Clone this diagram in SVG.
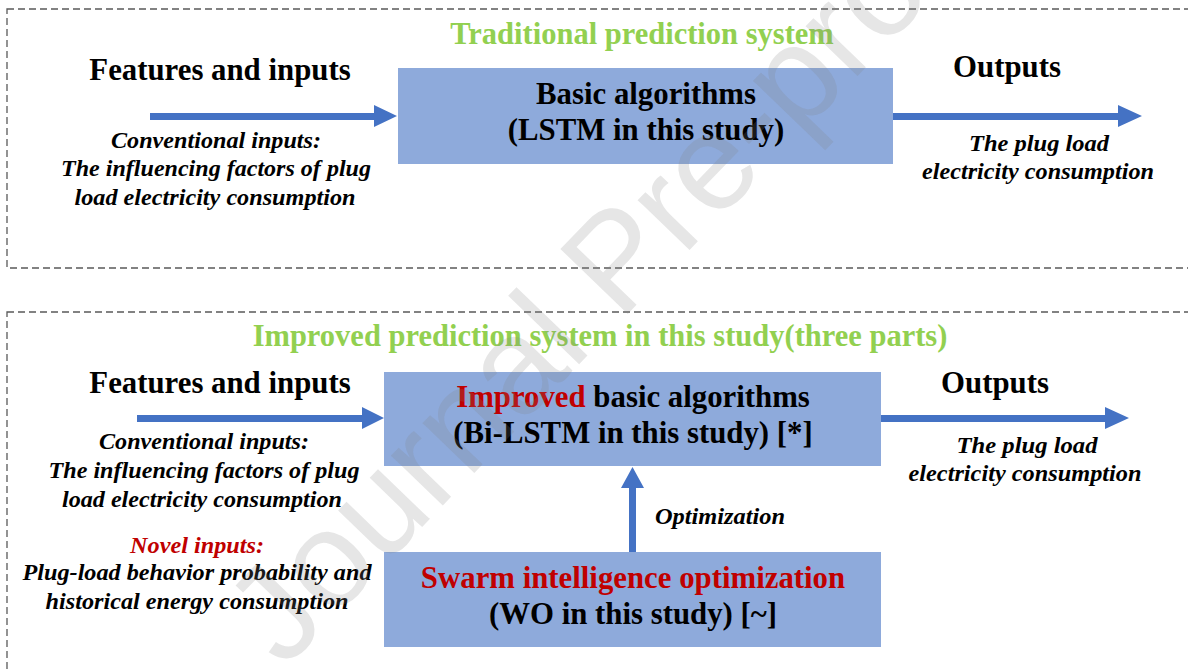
<svg xmlns="http://www.w3.org/2000/svg" width="1188" height="669" viewBox="0 0 1188 669">
<style>
.frame{fill:none;stroke:#595959;stroke-width:1.3;stroke-dasharray:7 4}
.box{fill:#8EAADB}
.arrow{fill:#4472C4}
.title{font-family:"Liberation Serif",serif;font-weight:bold;font-size:30.5px;fill:#92D050}
.head{font-family:"Liberation Serif",serif;font-weight:bold;font-size:30.8px;fill:#000}
.it{font-family:"Liberation Serif",serif;font-weight:bold;font-style:italic;font-size:24px;fill:#000}
.red{fill:#C00000}
.wm{font-family:"Liberation Sans",Arial,sans-serif;font-size:136px;fill:#808080;fill-opacity:0.2}
</style>
<rect width="1188" height="669" fill="#fff"/>
<g id="frames">
<rect class="frame" x="7" y="9" width="1190" height="259"/>
<rect class="frame" x="7" y="312" width="1190" height="380"/>
</g>
<g id="titles">
<text class="title" x="642" y="44" text-anchor="middle">Traditional  prediction system</text>
<text class="title" x="600" y="346" text-anchor="middle">Improved  prediction system in this study(three parts)</text>
</g>
<g id="connectors">
<polygon class="arrow" points="150,113 374,113 374,105 397,116 374,127 374,120 150,120"/>
<polygon class="arrow" points="893,113 1118,113 1118,105 1142,116 1118,127 1118,120 893,120"/>
<polygon class="arrow" points="137,415 362,415 362,407 384,418 362,429 362,422 137,422"/>
<polygon class="arrow" points="881,415 1105,415 1105,407 1129,418 1105,429 1105,422 881,422"/>
<polygon class="arrow" points="629,552 629,488 621,488 632.5,467 644,488 636,488 636,552"/>
</g>
<g id="top-inputs">
<text class="head" x="220" y="80" text-anchor="middle">Features and inputs</text>
<text class="it" x="216" y="148" text-anchor="middle" textLength="210" lengthAdjust="spacingAndGlyphs">Conventional inputs:</text>
<text class="it" x="216" y="176" text-anchor="middle" textLength="310" lengthAdjust="spacingAndGlyphs">The influencing factors of plug</text>
<text class="it" x="215" y="205" text-anchor="middle" textLength="281" lengthAdjust="spacingAndGlyphs">load electricity consumption</text>
</g>
<g id="top-model">
<rect class="box" x="398" y="68" width="495" height="96"/>
<text class="head" x="646" y="104" text-anchor="middle">Basic algorithms</text>
<text class="head" x="646" y="140" text-anchor="middle">(LSTM in this study)</text>
</g>
<g id="top-outputs">
<text class="head" x="1007" y="77" text-anchor="middle">Outputs</text>
<text class="it" x="1039" y="151" text-anchor="middle" textLength="140" lengthAdjust="spacingAndGlyphs">The plug load</text>
<text class="it" x="1038" y="179" text-anchor="middle" textLength="232" lengthAdjust="spacingAndGlyphs">electricity consumption</text>
</g>
<g id="bottom-inputs">
<text class="head" x="220" y="393" text-anchor="middle">Features and inputs</text>
<text class="it" x="204" y="449" text-anchor="middle" textLength="210" lengthAdjust="spacingAndGlyphs">Conventional inputs:</text>
<text class="it" x="204" y="478" text-anchor="middle" textLength="311" lengthAdjust="spacingAndGlyphs">The influencing factors of plug</text>
<text class="it" x="202" y="507" text-anchor="middle" textLength="280" lengthAdjust="spacingAndGlyphs">load electricity consumption</text>
<text class="it red" x="197" y="553" text-anchor="middle" textLength="134" lengthAdjust="spacingAndGlyphs">Novel inputs:</text>
<text class="it" x="197" y="580" text-anchor="middle" textLength="349" lengthAdjust="spacingAndGlyphs">Plug-load behavior probability and</text>
<text class="it" x="197" y="609" text-anchor="middle" textLength="303" lengthAdjust="spacingAndGlyphs">historical energy consumption</text>
</g>
<g id="bottom-model">
<rect class="box" x="384" y="372" width="497" height="94"/>
<text class="head" x="633" y="407" text-anchor="middle"><tspan class="red">Improved</tspan> basic algorithms</text>
<text class="head" x="633" y="443" text-anchor="middle">(Bi-LSTM in this study) [*]</text>
</g>
<g id="optimizer">
<rect class="box" x="384" y="552" width="497" height="95"/>
<text class="head red" x="633" y="588" text-anchor="middle">Swarm intelligence optimization</text>
<text class="head" x="633" y="624" text-anchor="middle">(WO in this study) [~]</text>
</g>
<g id="optimization-label">
<text class="it" x="655" y="524" textLength="130" lengthAdjust="spacingAndGlyphs">Optimization</text>
</g>
<g id="bottom-outputs">
<text class="head" x="995" y="393" text-anchor="middle">Outputs</text>
<text class="it" x="1027" y="453" text-anchor="middle" textLength="141" lengthAdjust="spacingAndGlyphs">The plug load</text>
<text class="it" x="1025" y="481" text-anchor="middle" textLength="233" lengthAdjust="spacingAndGlyphs">electricity consumption</text>
</g>
<g id="watermark">
<text class="wm" transform="translate(284,670) rotate(-46)">Journal Pre-proof</text>
</g>
</svg>
